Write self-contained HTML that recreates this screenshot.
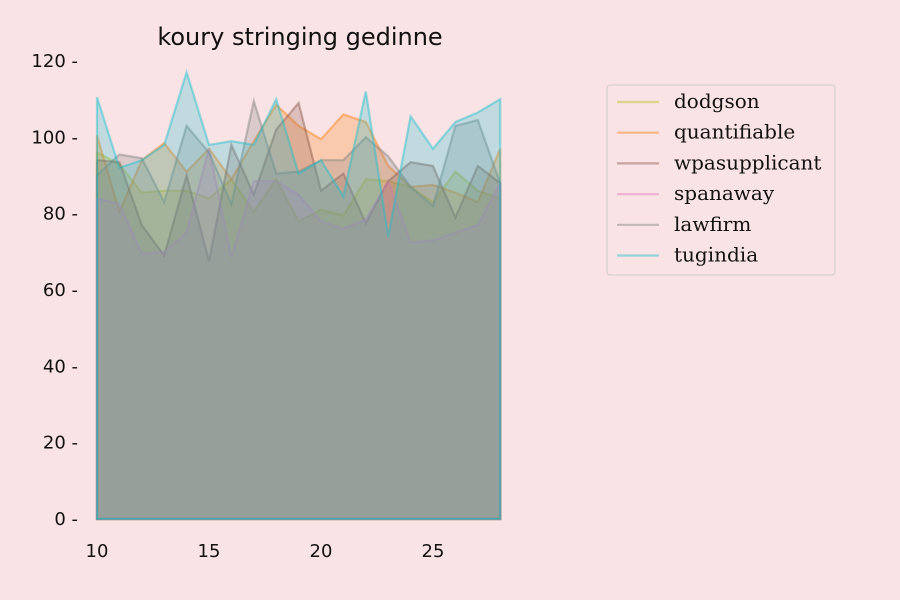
<!DOCTYPE html>
<html><head><meta charset="utf-8"><style>
body{margin:0;background:#f9e3e4;}
svg{display:block;}
</style></head><body>
<svg id="chart" width="900" height="600">
<rect width="900" height="600" fill="#f9e3e4"/>
<text x="300" y="45" text-anchor="middle" font-family="DejaVu Sans, sans-serif" font-size="24" fill="#111">koury stringing gedinne</text>
<g id="series"></g>
<g id="axes"></g>
<g id="legend"></g>
</svg>
<script>
const xs=[10,11,12,13,14,15,16,17,18,19,20,21,22,23,24,25,26,27,28];
const names=["dodgson","quantifiable","wpasupplicant","spanaway","lawfirm","tugindia"];
const colors=["#bcbd22","#ff7f0e","#8c564b","#e377c2","#7f7f7f","#17becf"];
const dodgson=[96,93,85.5,86,86,84,89,80.5,89,78,81,79.5,89,88.5,87,83,91,86,84];
const quantifiable=[100.5,80.5,94,98.5,91,97,89,99,108.5,103,99.5,106,104,92.5,87,87.5,85.5,83,97];
const wpasupplicant=[94,93.5,77,69,90,67.5,98,85,102,109,86,90.5,77.5,88.5,93.5,92.5,79,92.5,88];
const spanaway=[84,82.5,69.5,70,75,97,68.5,88.5,88.5,85,78,76,78.5,88.5,72.5,73,75,77,88];
const lawfirm=[90,95.5,94.5,83,103,96,82.5,109.5,90.5,91,94,94,100,95,87,82,103,104.5,88];
const tugindia=[110.5,92,94,98,117,98,99,98,110,90.5,94,84.5,112,74,105.5,97,104,106.5,110];
const series=[dodgson,quantifiable,wpasupplicant,spanaway,lawfirm,tugindia];
const yTicks=[0,20,40,60,80,100,120];
const xTicks=[10,15,20,25];
const NS="http://www.w3.org/2000/svg";
function sx(v){return 97+(v-10)*22.4;}
function sy(v){return 519-v*3.817;}
const sg=document.getElementById('series');
series.forEach((d,i)=>{
  let pts=d.map((v,j)=>sx(xs[j])+','+sy(v)).join(' ');
  const poly=document.createElementNS(NS,'polygon');
  poly.setAttribute('points',sx(xs[0])+','+sy(0)+' '+pts+' '+sx(xs[xs.length-1])+','+sy(0));
  poly.setAttribute('fill',colors[i]);poly.setAttribute('fill-opacity','0.25');
  poly.setAttribute('stroke',colors[i]);poly.setAttribute('stroke-opacity','0.45');poly.setAttribute('stroke-width','2.2');
  
  
  sg.appendChild(poly);
});
const ag=document.getElementById('axes');
yTicks.forEach(t=>{
  const tx=document.createElementNS(NS,'text');
  tx.setAttribute('x',78);tx.setAttribute('y',sy(t)+6);tx.setAttribute('text-anchor','end');
  tx.setAttribute('font-family','DejaVu Sans, sans-serif');tx.setAttribute('font-size','18');tx.setAttribute('fill','#111');
  tx.textContent=t+' -';
  
  
  ag.appendChild(tx);
});
xTicks.forEach(t=>{
  const tx=document.createElementNS(NS,'text');
  tx.setAttribute('x',sx(t));tx.setAttribute('y',557);tx.setAttribute('text-anchor','middle');
  tx.setAttribute('font-family','DejaVu Sans, sans-serif');tx.setAttribute('font-size','18');tx.setAttribute('fill','#111');
  tx.textContent=t;
  
  
  ag.appendChild(tx);
});
const lg=document.getElementById('legend');
const box=document.createElementNS(NS,'rect');
box.setAttribute('x',607);box.setAttribute('y',85);box.setAttribute('width',228);box.setAttribute('height',190);box.setAttribute('rx',3);
box.setAttribute('fill','#f9e3e4');box.setAttribute('stroke','#ccc');


lg.appendChild(box);
names.forEach((n,i)=>{
  const y=102+i*30.7;
  const ln=document.createElementNS(NS,'line');
  ln.setAttribute('x1',617);ln.setAttribute('x2',659);ln.setAttribute('y1',y);ln.setAttribute('y2',y);
  ln.setAttribute('stroke',colors[i]);ln.setAttribute('stroke-opacity','0.45');ln.setAttribute('stroke-width','2.2');
  
  
  lg.appendChild(ln);
  const tx=document.createElementNS(NS,'text');
  tx.setAttribute('x',674);tx.setAttribute('y',y+6);
  tx.setAttribute('font-family','DejaVu Serif, serif');tx.setAttribute('font-size','20');tx.setAttribute('fill','#111');
  tx.textContent=n;
  
  
  lg.appendChild(tx);
});
</script>
</body></html>
